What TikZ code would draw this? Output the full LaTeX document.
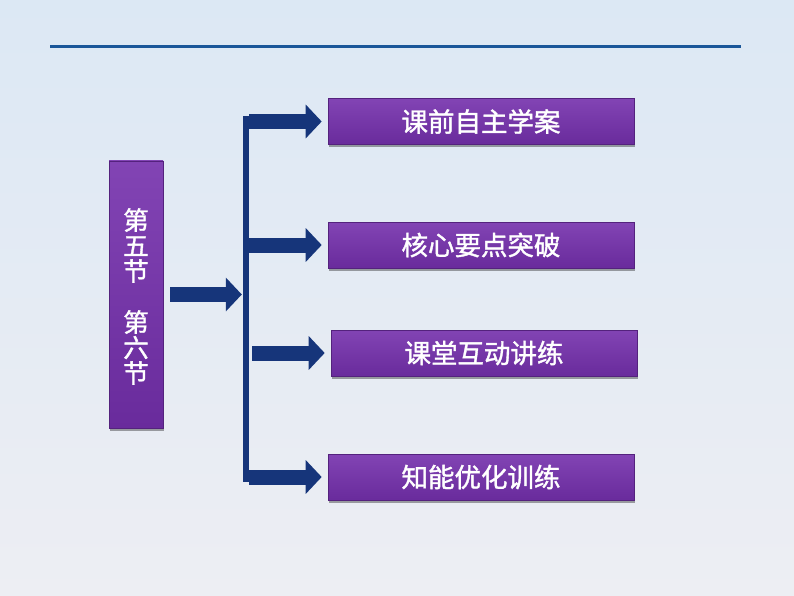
\documentclass[tikz,border=0pt]{standalone}
\usepackage{fontspec}
\newfontfamily\cjk{Noto Sans CJK SC}[FakeBold=1.4]
\usetikzlibrary{arrows.meta,shadows}
\definecolor{bgtop}{HTML}{DCE8F4}
\definecolor{bgbot}{HTML}{EDEEF3}
\definecolor{topline}{HTML}{1A5699}
\definecolor{navy}{HTML}{16357A}
\definecolor{purptop}{HTML}{8244B4}
\definecolor{purpbot}{HTML}{692B9C}
\tikzset{
  purpbox/.style={rectangle, top color=purptop, bottom color=purpbot, draw=purpbot!80!black, line width=0.6pt,
    drop shadow={shadow xshift=1pt, shadow yshift=-2.5pt, opacity=0.35, fill=black},
    text=white, inner sep=0pt},
  itembox/.style={purpbox, minimum width=306pt, minimum height=46pt, font=\cjk\fontsize{26.5}{27}\selectfont},
  sidebox/.style={purpbox, minimum width=54pt, minimum height=267pt, align=center, font=\cjk\fontsize{25.5}{25.5}\selectfont},
  fatarrow/.style={draw=navy, line width=15pt, -{Triangle[length=16pt,width=33pt]}},
  barnode/.style={rectangle, fill=navy, inner sep=0pt, minimum width=6pt, minimum height=366pt}
}
\begin{document}
\begin{tikzpicture}[x=1pt,y=-1pt]
\shade[top color=bgtop, bottom color=bgbot] (0,0) rectangle (794,596);
\useasboundingbox (0,0) rectangle (794,596);
\coordinate (lineL) at (50,47);
\coordinate (lineR) at (741,47);
\draw[topline, line width=3pt] (lineL) -- (lineR);

\node[sidebox] (left) at (136,294.5)
  {\rule{0pt}{8pt}\\[-8pt]第\\五\\节\\\mbox{}\\第\\六\\节};
\node[barnode] (bar) at (246,299) {};

\node[itembox] (b1) at (481,121.5) {课前自主学案};
\node[itembox] (b2) at (481,245) {核心要点突破};
\node[itembox] (b3) at (484,353) {课堂互动讲练};
\node[itembox] (b4) at (481,477) {知能优化训练};

\draw[fatarrow, shorten <=7pt, shorten >=1pt] (left.east) -- (bar.west |- left.east);
\draw[fatarrow, shorten >=6pt] (bar.east |- b1.west) -- (b1.west);
\draw[fatarrow, shorten >=6pt] (bar.east |- b2.west) -- (b2.west);
\draw[fatarrow, shorten >=6pt, shorten <=3pt] (bar.east |- b3.west) -- (b3.west);
\draw[fatarrow, shorten >=6pt] (bar.east |- b4.west) -- (b4.west);
\end{tikzpicture}
\end{document}
